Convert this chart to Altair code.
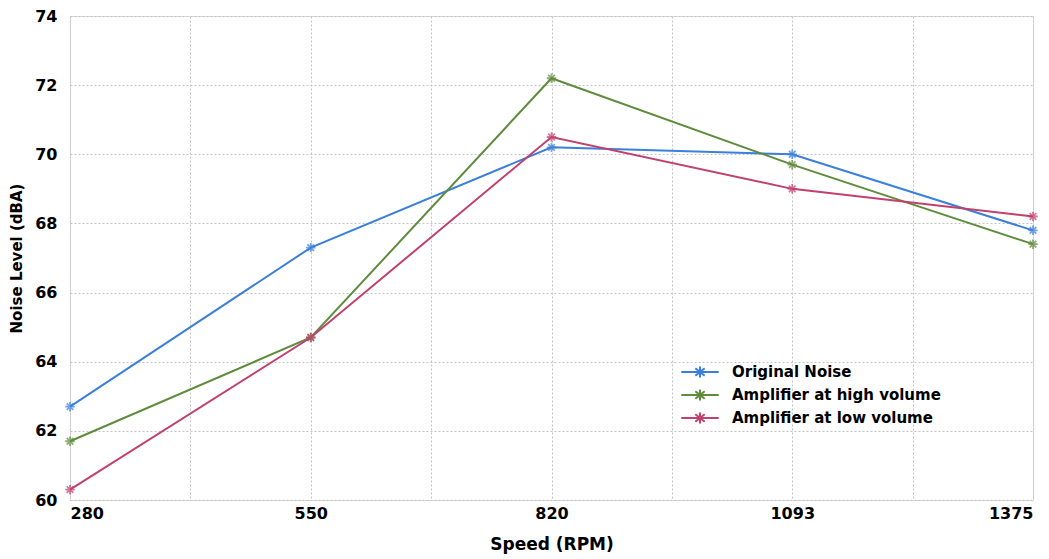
import altair as alt
import pandas as pd

speeds = ["280", "550", "820", "1093", "1375"]
original_noise = [62.7, 67.3, 70.2, 70.0, 67.8]
amp_high = [61.7, 64.7, 72.2, 69.7, 67.4]
amp_low = [60.3, 64.7, 70.5, 69.0, 68.2]
series_names = ["Original Noise", "Amplifier at high volume", "Amplifier at low volume"]
series_colors = ["#3a7fdc", "#5f8c3c", "#c0406e"]

rows = []
for name, vals in zip(series_names, [original_noise, amp_high, amp_low]):
    for i, (s, v) in enumerate(zip(speeds, vals)):
        rows.append({"idx": i, "speed": s, "value": v, "series": name})
df = pd.DataFrame(rows)

label_expr = "datum.value % 1 == 0 ? ['280','550','820','1093','1375'][datum.value] : ''"
FONT = "DejaVu Sans"

x_enc = alt.X("idx:Q",
              scale=alt.Scale(domain=[0, 4], nice=False),
              axis=alt.Axis(values=[0, 0.5, 1, 1.5, 2, 2.5, 3, 3.5, 4],
                            labelExpr=label_expr, title="Speed (RPM)",
                            grid=True, gridDash=[2, 2], gridColor="#c4c4c4",
                            ticks=False, domain=False, labelPadding=5,
                            labelFontSize=16, labelFontWeight="bold", labelFont=FONT,
                            labelColor="#000", titleFontSize=17, titleFontWeight="bold",
                            titleFont=FONT, titleColor="#000", titlePadding=15))
y_enc = alt.Y("value:Q",
              scale=alt.Scale(domain=[60, 74], nice=False, zero=False),
              axis=alt.Axis(values=[60, 62, 64, 66, 68, 70, 72, 74], title="Noise Level (dBA)",
                            grid=True, gridDash=[2, 2], gridColor="#c4c4c4",
                            ticks=False, domain=False, labelPadding=13,
                            labelFontSize=16, labelFontWeight="bold", labelFont=FONT,
                            labelColor="#000", titleFontSize=15, titleFontWeight="bold",
                            titleFont=FONT, titleColor="#000", titlePadding=10))

legend_symbol = "M-1,0L1,0M0,-0.3L0,0.3M-0.25,-0.2L0.25,0.2M-0.25,0.2L0.25,-0.2"
color_enc = alt.Color("series:N",
                      scale=alt.Scale(domain=series_names, range=series_colors),
                      sort=series_names,
                      legend=alt.Legend(title=None, orient="none", legendX=610, legendY=347,
                                        symbolType=legend_symbol, symbolStrokeWidth=2,
                                        symbolSize=1400, clipHeight=18,
                                        labelFontSize=15, labelFontWeight="bold", labelFont=FONT,
                                        labelColor="#000", rowPadding=5, labelOffset=12,
                                        labelLimit=400, padding=0))

asterisk = "M-1,0L1,0M0,-1L0,1M-0.7,-0.7L0.7,0.7M-0.7,0.7L0.7,-0.7"

base = alt.Chart(df)
lines = base.mark_line(strokeWidth=2).encode(x=x_enc, y=y_enc, color=color_enc)
points = base.mark_point(shape=asterisk, size=90, filled=False, strokeWidth=1.8).encode(
    x="idx:Q", y="value:Q", color=alt.Color("series:N", legend=None,
                                            scale=alt.Scale(domain=series_names, range=series_colors)))

chart = (lines + points).properties(
    width=963, height=484,
    autosize=alt.AutoSizeParams(type="none"),
    padding={"left": 70, "top": 16, "right": 16, "bottom": 59},
).configure_view(stroke="#555555", strokeWidth=1.5).configure(background="white")

chart.save("out.html", embed_options={"renderer": "svg", "actions": False})
